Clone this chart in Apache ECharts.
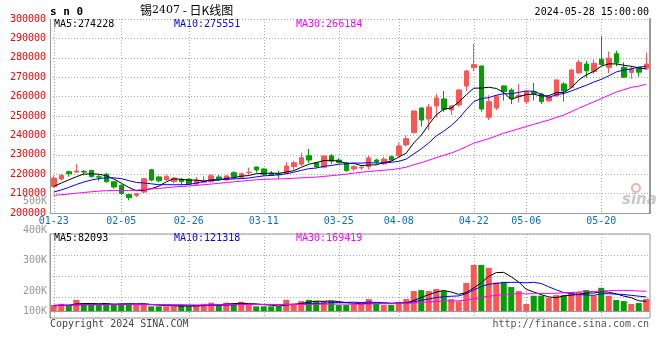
<!DOCTYPE html>
<html><head><meta charset="utf-8">
<script src="https://cdn.jsdelivr.net/npm/echarts@6/dist/echarts.min.js"></script>
<style>html,body{margin:0;padding:0;background:#fff}#c{width:660px;height:360px}</style>
</head><body><div id="c"></div>
<script>
// ---- data ----
const dates = ['01-23','01-24','01-25','01-26','01-29','01-30','01-31',
'02-01','02-02','02-05','02-06','02-07','02-08','02-19','02-20','02-21','02-22','02-23','02-26','02-27','02-28','02-29',
'03-01','03-04','03-05','03-06','03-07','03-08','03-11','03-12','03-13','03-14','03-15','03-18','03-19','03-20','03-21','03-22','03-25','03-26','03-27','03-28','03-29',
'04-01','04-02','04-03','04-08','04-09','04-10','04-11','04-12','04-15','04-16','04-17','04-18','04-19','04-22','04-23','04-24','04-25','04-26','04-29','04-30',
'05-06','05-07','05-08','05-09','05-10','05-13','05-14','05-15','05-16','05-17','05-20','05-21','05-22','05-23','05-24','05-27','05-28'];
const opens  = [213700,217500,221300,221100,221500,222000,218700,220000,216100,214300,209500,209100,210800,222300,218600,217200,216200,217400,217400,214900,215800,216100,218600,217000,220800,218400,220800,223700,222700,220500,220100,220500,223900,225100,229500,225900,223600,229500,227300,225900,222700,223200,223900,227300,225300,229000,229700,235100,241400,254100,248500,255200,258800,253100,255700,265500,274900,275800,249300,254100,265500,263400,260000,257300,262500,261300,257800,260300,266500,264800,272200,276800,272900,279300,275100,282100,275100,272400,274900,274600];
const closes = [218000,219300,220200,221600,221100,218700,218500,216100,213400,210100,207900,209900,217700,217000,216600,218900,218000,216200,214900,216900,216500,219200,217500,219100,218700,220300,221000,222200,219900,219400,219700,224200,225900,228500,227300,223900,229400,226700,226100,221800,223900,223600,228400,226300,227800,227300,234500,238300,252600,247900,254600,259300,253500,255200,263400,273200,276500,253600,257400,260300,262600,258900,260700,262600,261600,257400,260000,268600,262900,273700,277600,273300,277200,276500,279800,277400,270000,274300,272600,276800];
const lows   = [212900,216600,218700,220800,219400,218300,216600,215800,212500,209300,206500,208200,210300,216300,215800,216500,215200,214200,214400,214500,215300,215600,216500,216600,217400,217900,219600,220800,219100,219100,217500,220100,222200,224200,225900,223000,223000,225300,225600,221300,221600,222200,222500,225300,224700,227000,229000,234200,241100,244500,242800,249300,252100,250500,254800,262900,273200,252200,247900,253100,257900,256200,257000,256200,258000,256200,257400,260000,257400,264400,271900,269700,271700,276000,272000,275600,269600,269200,270300,273700];
const highs  = [219200,220100,221800,225200,222200,222200,219700,220500,216600,214700,209900,210300,218000,222800,218800,219700,218400,218000,217900,218400,219100,219900,219600,219600,221500,220800,223400,223900,223000,221700,221800,226300,227000,231100,233000,226400,229900,230400,228200,226400,224700,224600,229700,228000,229000,229700,236200,240000,252700,254500,256200,261300,262900,255500,263900,273700,287100,275800,260700,260800,265800,264300,266500,263000,267000,261900,260700,268900,267400,274200,278900,278400,279200,291200,283200,283700,277700,275800,275100,282700];
const volumes = [51000,62000,51000,96000,62000,51000,51000,62000,60000,62000,62000,51000,62000,40000,40000,40000,40000,51000,40000,40000,62000,71000,51000,71000,62000,79000,51000,40000,40000,40000,40000,96000,62000,85000,96000,85000,85000,85000,51000,51000,62000,62000,102000,62000,51000,51000,77000,102000,171000,179000,171000,188000,171000,102000,83000,240000,395000,395000,370000,245000,250000,205000,171000,60000,131000,131000,113000,136000,136000,162000,162000,179000,131000,199000,131000,94000,85000,60000,68000,104000];
// closes / volumes of the 29 sessions before 01-23 (estimated from where the MA lines start)
const priorCloses = [209500,210000,209800,208900,207600,208300,209100,210200,209400,208000,207200,206500,207800,208600,207900,206800,207400,208100,207300,206600,208500,207000,206800,208300,208600,211000,212000,213500,214300];
const priorVolumes = [48000,55000,52000,46000,50000,58000,53000,49000,51000,47000,54000,56000,50000,48000,52000,49000,53000,47000,51000,55000,55000,52000,50000,53000,45000,44000,46000,40000,43000];
const dateTicks = ['01-23','02-05','02-26','03-11','03-25','04-08','04-22','05-06','05-20'];
const volTickLabels = ['500K','400K','300K','200K','100K'];
const priceLegend = ['MA5:274228','MA10:275551','MA30:266184'];
const volLegend = ['MA5:82093','MA10:121318','MA30:169419'];
const maPeriods = [5,10,30];
const maColors = ['#000000','#0000ff','#ff00ff'];

// ---- helpers ----
function movingAvg(n, prior, arr){
  const all = prior.concat(arr);
  return arr.map((_, i) => {
    const j = i + prior.length; let s = 0;
    for (let k = 0; k < n; k++) s += all[j-k];
    return Math.round(s / n);
  });
}
const UP = '#ff5555', DOWN = '#00a000';
const mono = 'DejaVu Sans Mono';
const candle = dates.map((d,i)=>[opens[i],closes[i],lows[i],highs[i]]);
const volBars = volumes.map((v,i)=>({value:v,itemStyle:{color: closes[i]>=opens[i]?UP:DOWN}}));
const tickFn = (idx, val) => dateTicks.indexOf(val) >= 0;
const dotted = {color:'#aaaaaa', width:1, type:[1,2]};

const chart = echarts.init(document.getElementById('c'), null, {renderer:'canvas'});

const series = [{
  type:'candlestick', xAxisIndex:0, yAxisIndex:0, data:candle, barWidth:5,
  itemStyle:{color:UP, color0:DOWN, borderColor:UP, borderColor0:DOWN, borderWidth:1}
}];
maPeriods.forEach((p,k)=>{
  series.push({type:'line', xAxisIndex:0, yAxisIndex:0, data:movingAvg(p, priorCloses, closes),
    showSymbol:false, symbol:'none', lineStyle:{color:maColors[k], width:1}, z:5});
});
series.push({type:'bar', xAxisIndex:1, yAxisIndex:2, data:volBars, barWidth:6});
maPeriods.forEach((p,k)=>{
  series.push({type:'line', xAxisIndex:1, yAxisIndex:2, data:movingAvg(p, priorVolumes, volumes),
    showSymbol:false, symbol:'none', lineStyle:{color:maColors[k], width:1}, z:5});
});

// layout constants (pixels)
const volLabelY = [201, 230, 260, 291, 311];
const graphics = [
  {type:'text', x:50, y:12, style:{text:'s n 0', fill:'#000', font:'bold 11px "DejaVu Sans Mono"', verticalAlign:'middle'}},
  {type:'text', x:140, y:10, style:{text:'{a|锡}{b|2407}{a| - 日K线图}', verticalAlign:'middle',
     rich:{a:{fontFamily:'Noto Sans CJK SC', fontSize:12, color:'#000'}, b:{fontFamily:'DejaVu Serif', fontSize:11, color:'#777'}}}},
  {type:'text', x:649, y:12, style:{text:'2024-05-28 15:00:00', fill:'#000', font:'10px "DejaVu Sans Mono"', align:'right', verticalAlign:'middle'}},
  {type:'text', x:50, y:324, style:{text:'Copyright 2024 SINA.COM', fill:'#444', font:'10px "DejaVu Sans Mono"', verticalAlign:'middle'}},
  {type:'text', x:649, y:324, style:{text:'http://finance.sina.com.cn', fill:'#555', font:'10px "DejaVu Sans Mono"', align:'right', verticalAlign:'middle'}},
  {type:'text', x:622, y:200, style:{text:'sina', fill:'#c8c8c8', font:'italic bold 15px "DejaVu Sans"', verticalAlign:'middle'}},
  {type:'circle', shape:{cx:636, cy:188, r:4}, style:{fill:'none', stroke:'#f0b0b0', lineWidth:2}}
];
const legendX = [54, 174, 296];
priceLegend.forEach((t,k)=>graphics.push({type:'text', x:legendX[k], y:24, style:{text:t, fill:maColors[k], font:'10px "DejaVu Sans Mono"', verticalAlign:'middle'}}));
volLegend.forEach((t,k)=>graphics.push({type:'text', x:legendX[k], y:238, style:{text:t, fill:maColors[k], font:'10px "DejaVu Sans Mono"', verticalAlign:'middle'}}));
volTickLabels.forEach((t,k)=>graphics.push({type:'text', x:47, y:volLabelY[k], style:{text:t, fill:'#999', font:'10px "DejaVu Sans Mono"', align:'right', verticalAlign:'middle'}}));

chart.setOption({
  animation:false,
  backgroundColor:'#fff',
  grid:[
    {left:50, right:10, top:19, height:194},
    {left:50, right:10, top:234, height:84, show:true, borderColor:'#999', borderWidth:1}
  ],
  xAxis:[
    {type:'category', gridIndex:0, data:dates, boundaryGap:true,
     axisLine:{lineStyle:{color:'#999', width:1}}, axisTick:{show:false},
     axisLabel:{interval:tickFn, color:'#0a70c4', fontFamily:mono, fontSize:10, margin:3},
     splitLine:{show:true, interval:tickFn, alignWithLabel:true, lineStyle:dotted}},
    {type:'category', gridIndex:1, data:dates, boundaryGap:true,
     axisLine:{lineStyle:{color:'#999', width:1}}, axisTick:{show:false}, axisLabel:{show:false},
     splitLine:{show:true, interval:tickFn, alignWithLabel:true, lineStyle:dotted}}
  ],
  yAxis:[
    {type:'value', gridIndex:0, min:200000, max:300000, interval:10000,
     axisLine:{show:true, lineStyle:{color:'#999', width:1}}, axisTick:{show:false},
     axisLabel:{color:'#ff0000', fontFamily:mono, fontSize:10, margin:4, verticalAlign:'middle', padding:[0,0,6,0],
       formatter:(v)=>String(v)},
     splitLine:{show:true, lineStyle:dotted}},
    {type:'value', gridIndex:0, position:'right', min:200000, max:300000, interval:10000,
     axisLine:{show:true, lineStyle:{color:'#999', width:2}}, axisTick:{show:false}, axisLabel:{show:false}, splitLine:{show:false}},
    {type:'value', gridIndex:1, min:-60000, max:660000, interval:180000,
     axisLine:{show:true, lineStyle:{color:'#999', width:1}}, axisTick:{show:false}, axisLabel:{show:false},
     splitLine:{show:true, lineStyle:dotted}}
  ],
  series: series,
  graphic: graphics
});
</script></body></html>
